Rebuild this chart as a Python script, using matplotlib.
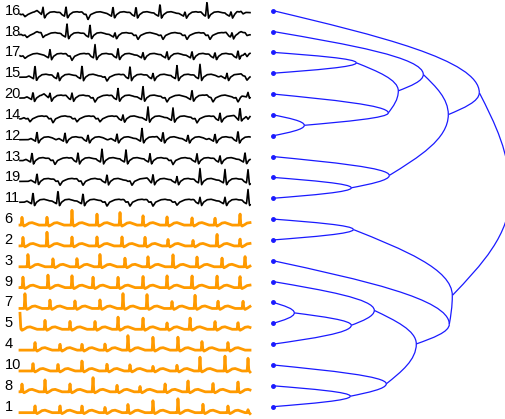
import numpy as np
import matplotlib
matplotlib.use('Agg')
import matplotlib.pyplot as plt
from matplotlib.path import Path
from matplotlib.patches import PathPatch

plt.rcParams['font.family'] = ['Liberation Sans', 'DejaVu Sans']

# порядок листьев дерева (сверху вниз) и второй кластер
leaf_order = [16, 18, 17, 15, 20, 14, 12, 13, 19, 11, 6, 2, 3, 9, 7, 5, 4, 10, 8, 1]
cluster_2 = [6, 2, 3, 9, 7, 5, 4, 10, 8, 1]

# объединения: левый потомок, правый потомок, высота
node_name = ['A', 'B', 'C', 'D', 'E', 'G1', 'G', 'F', 'H', 'P', 'Q', 'R', 'S', 'K', 'T', 'U', 'V', 'W', 'root']
node_left = ['17', '14', '20', 'A', '18', '19', '13', 'E', '16', '6', '7', 'Q', '9', '8', '10', 'S', '3', 'P', 'H']
node_right = ['15', '12', 'B', 'C', 'D', '11', 'G1', 'G', 'F', '2', '5', '4', 'R', '1', 'K', 'T', 'U', 'V', 'W']
node_height = [8.3, 3.1, 11.5, 12.5, 15.0, 7.8, 11.6, 17.5, 20.6, 8.0, 2.1, 7.8, 10.1, 7.7, 11.3, 14.3, 17.6, 17.9, 23.7]

# удары в рядах: (момент, амплитуда); отрицательная амплитуда - провал
beats = {
    16: [(5, -2), (23, 7), (46, 8), (68, -5), (93, 8), (116, 8), (140, 11), (165, 3), (187, 13), (211, 3), (223, -2)],
    18: [(7, -2), (23, -4), (47, 12), (70, 11), (95, 3), (118, -4), (143, -4), (167, -4), (190, -4), (212, 3), (227, -2)],
    17: [(5, -2), (30, 7), (52, -4), (75, 12), (98, 8), (123, 4), (147, 5), (172, 5), (195, 4), (218, 6), (227, -3)],
    15: [(15, 12), (38, 5), (62, 12), (87, -4), (110, 11), (133, 4), (157, 12), (180, 13), (207, 4), (227, -3)],
    20: [(13, 6), (30, 4), (52, 5), (75, -4), (98, 10), (123, 12), (147, -4), (172, 8), (193, -4), (218, -4), (228, 3)],
    14: [(10, -3), (33, -4), (57, -3), (80, -3), (103, 4), (128, 12), (153, 11), (177, -4), (200, 6), (220, 11), (228, -3)],
    12: [(17, 8), (45, 7), (68, 5), (97, 6), (122, 12), (143, 8), (168, 5), (195, 6), (218, 9)],
    13: [(12, 8), (35, -4), (58, 8), (82, 12), (106, 11), (130, 7), (153, -4), (177, 7), (200, 5), (225, 8)],
    19: [(17, 8), (40, -4), (63, -4), (87, 7), (112, -4), (133, 7), (157, 5), (180, 13), (205, 12), (228, 12)],
    11: [(13, 10), (38, 12), (63, 9), (87, -4), (110, -4), (133, -4), (157, -3), (180, 5), (205, 5), (228, 13)],
    6: [(2, 8), (27, 8), (52, 15), (77, 11), (100, 13), (123, 10), (147, 9), (172, 8), (195, 8), (220, 13)],
    2: [(3, 9), (27, 14), (52, 9), (77, 9), (102, 9), (125, 9), (148, 7), (173, 6), (197, 13), (220, 8)],
    3: [(8, 14), (33, 9), (57, 9), (80, 13), (105, 9), (128, 10), (153, 12), (177, 10), (202, 9), (225, 11)],
    9: [(3, 11), (28, 13), (52, 12), (73, 11), (98, 11), (123, 12), (147, 13), (172, 13), (197, 13), (220, 13)],
    7: [(5, 16), (30, 9), (55, 8), (80, 9), (103, 15), (127, 14), (152, 7), (175, 14), (198, 8), (223, 8)],
    5: [(0, 16), (25, 9), (50, 8), (75, 8), (98, 13), (123, 12), (147, 7), (170, 13), (195, 9), (218, 8)],
    4: [(15, 9), (40, 7), (62, 7), (85, 7), (108, 16), (133, 14), (158, 14), (182, 9), (208, 8)],
    10: [(13, 9), (38, 8), (62, 12), (87, 8), (110, 7), (133, 5), (157, 6), (180, 14), (205, 15), (228, 13)],
    8: [(2, 8), (25, 12), (50, 8), (73, 15), (97, 7), (120, 6), (145, 9), (168, 13), (193, 10), (218, 12)],
    1: [(15, 8), (40, 8), (62, 8), (85, 6), (108, 9), (133, 13), (158, 15), (183, 9), (208, 7), (228, 3)],
}

ROW_PX = 20.84
BLUE = '#1a1aff'
ORANGE = '#ff9a00'

# форма одного удара (смещение по времени, значение)
up_dt = [-9, -6, -4, -1.5, 0, 1.5, 3.5, 7, 11, 15, 19]
up_val = [0, 1.2, 0, -1.5, None, -3.5, 0, 2.5, 3.0, 2.0, 0]
down_dt = [-9, -6, -4, -2, 0, 2.5, 4.5, 8, 12, 16, 19]
down_val = [0, 1.2, 0, 0.5, None, 0, 1.0, 2.5, 3.0, 2.0, 0]
or_dt = [-2, -0.8, 0, 0.8, 2, 4, 7, 10, 13, 17]
or_val = [0, 0, None, 0.5, -1.0, 0, 2.0, 2.5, 1.5, 0]


def waveform(row_beats, orange):
    t = np.linspace(0, 230, 700)
    y = np.zeros_like(t)
    for tb, amp in row_beats:
        if orange:
            dt, val = or_dt, or_val
        elif amp > 0:
            dt, val = up_dt, up_val
        else:
            dt, val = down_dt, down_val
        val = [amp if v is None else v for v in val]
        y += np.interp(t - tb, dt, val, left=0, right=0)
    return t, y


fig = plt.figure(figsize=(5.05, 4.19), dpi=100)
ax_ts = fig.add_axes([0, 0, 260 / 505, 1])
ax_tr = fig.add_axes([260 / 505, 0, 245 / 505, 1])

ylim = (-0.513 + 419 / ROW_PX, -0.513)
for ax in (ax_ts, ax_tr):
    ax.set_ylim(*ylim)
    ax.set_axis_off()

ax_ts.set_xlim(-20, 240)
ax_tr.set_xlim(-1.33, 23.17)

# временные ряды
for k, label in enumerate(leaf_order):
    orange = label in cluster_2
    t, y = waveform(beats[label], orange)
    base = 6 if orange else 4
    ax_ts.plot(t, k + (base - y) / ROW_PX, color=ORANGE if orange else 'black',
               lw=2.0 if orange else 1.2, solid_joinstyle='round')
    ax_ts.text(-15.5, k, str(label), ha='left', va='center', fontsize=10.5)

# дерево
pos = {str(label): (0.0, float(k)) for k, label in enumerate(leaf_order)}
size = {str(label): 1 for label in leaf_order}
for name, left, right, h in zip(node_name, node_left, node_right, node_height):
    wl, wr = size[left] ** 0.6, size[right] ** 0.6
    yn = (pos[left][1] * wl + pos[right][1] * wr) / (wl + wr)
    pos[name] = (h, yn)
    size[name] = size[left] + size[right]
    for child in (left, right):
        xc, yc = pos[child]
        dx, dy = h - xc, yn - yc
        verts = [(xc, yc), (xc + 0.5 * dx, yc + 0.3 * dy), (h, yn - 0.4 * dy), (h, yn)]
        path = Path(verts, [Path.MOVETO, Path.CURVE4, Path.CURVE4, Path.CURVE4])
        ax_tr.add_patch(PathPatch(path, fill=False, edgecolor=BLUE, lw=0.9))

ax_tr.plot(np.zeros(len(leaf_order)), np.arange(len(leaf_order)), 'o', color=BLUE, ms=2.5)

fig.savefig('out.png', dpi=100)
